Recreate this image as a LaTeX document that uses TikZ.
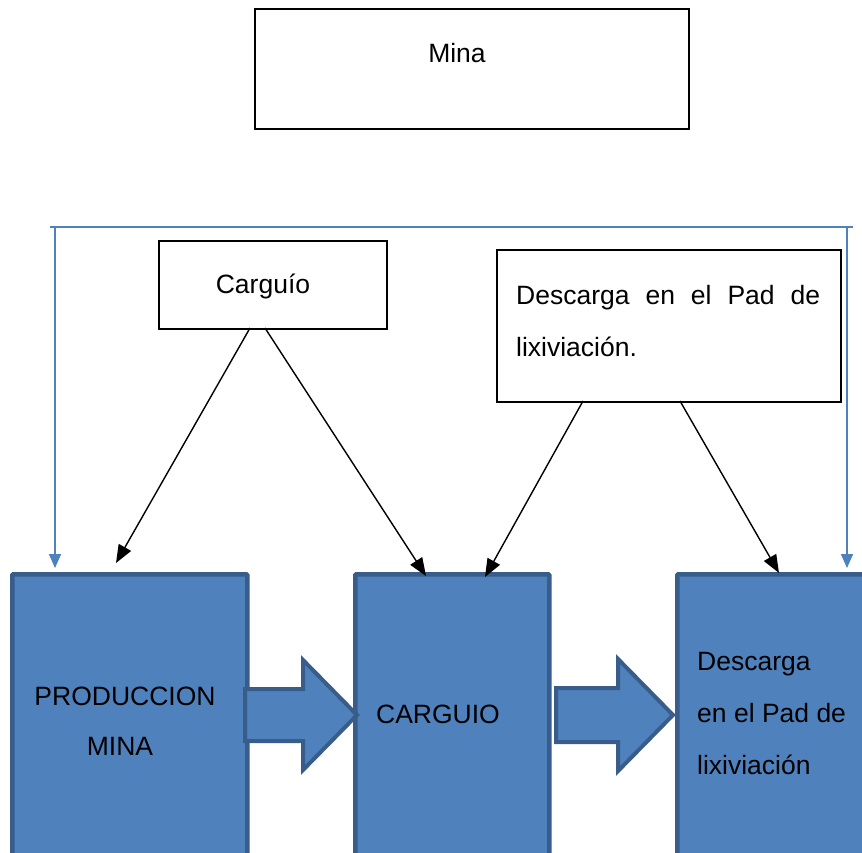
\documentclass[tikz,border=0pt]{standalone}
\usepackage{fontspec}
\setmainfont{Liberation Sans}
\usetikzlibrary{arrows.meta,calc}
\definecolor{boxblue}{HTML}{4F81BD}
\definecolor{boxedge}{HTML}{385D8A}
\definecolor{lineblue}{HTML}{4F81BD}
\begin{document}
\begin{tikzpicture}[x=1pt,y=-1pt,
  txt/.style={font=\fontsize{26.5}{52}\selectfont, inner sep=0pt},
  wbox/.style={draw=black, line width=1.8pt, fill=white, anchor=north west, inner sep=0pt},
  bbox/.style={draw=boxedge, line width=4.5pt, fill=boxblue, anchor=north west, inner sep=0pt, rounded corners=1pt},
  barrow/.style={draw=boxedge, line width=4pt, fill=boxblue, line join=miter},
  conn/.style={draw=black, line width=1.4pt, -{Triangle[length=18pt,width=14pt]}},
  bconn/.style={draw=lineblue, line width=1.8pt, -{Triangle[length=14pt,width=12pt]}},
  bline/.style={draw=lineblue, line width=1.8pt}]
\useasboundingbox (0,0) rectangle (862,852);
\clip (0,0) rectangle (862,852);

% top boxes
\node[wbox, minimum width=434pt, minimum height=120pt] (mina) at (254,8) {};
\node[txt] (minat) at (457,53) {Mina};

\node[wbox, minimum width=228pt, minimum height=88pt] (carg) at (158,240) {};
\node[txt] (cargt) at (263,286) {Carguío};

\node[wbox, minimum width=344pt, minimum height=152pt] (desc) at (496,249) {};
\node[txt, anchor=north west, text width=304pt, align=justify] (desct) at (516,285)
  {Descarga en el Pad de\linebreak lixiviación.};

% big blue boxes
\node[bbox, minimum width=235pt, minimum height=300pt] (prod) at (10,572) {};
\node[txt] (prodt1) at (125,696) {PRODUCCION};
\node[txt] (prodt2) at (120,746) {MINA};

\node[bbox, minimum width=194pt, minimum height=300pt] (cargb) at (353,572) {};
\node[txt] (cargbt) at (438,714) {CARGUIO};

\node[bbox, minimum width=220pt, minimum height=300pt] (descb) at (675,572) {};
\node[txt, anchor=west, align=left] (descbt) at (697,714)
  {Descarga\\en el Pad de\\lixiviación};

% block arrows
\path[barrow] (245,689) -- (303,689) -- (303,660) -- (357,715) -- (303,770) -- (303,741) -- (245,741) -- cycle;
\path[barrow] (556,688) -- (618,688) -- (618,659) -- (673,715) -- (618,771) -- (618,742) -- (556,742) -- cycle;

% blue frame line with arrows
\coordinate (bl0) at (50,227);
\coordinate (br0) at (853,227);
\coordinate (bl1) at (55,227);
\coordinate (br1) at (847,227);
\coordinate (blt) at (55,568);
\coordinate (brt) at (847,568);
\draw[bline] (bl0) -- (br0);
\draw[bconn] (bl1) -- (blt);
\draw[bconn] (br1) -- (brt);

% black connectors
\coordinate (c1) at (250,328);
\coordinate (c2) at (265,328);
\coordinate (d1) at (583,401);
\coordinate (d2) at (680,401);
\coordinate (t1) at (116,563);
\coordinate (t2) at (426,576);
\coordinate (t3) at (485,577);
\coordinate (t4) at (779,573);
\draw[conn] (c1) -- (t1);
\draw[conn] (c2) -- (t2);
\draw[conn] (d1) -- (t3);
\draw[conn] (d2) -- (t4);
\end{tikzpicture}
\end{document}
